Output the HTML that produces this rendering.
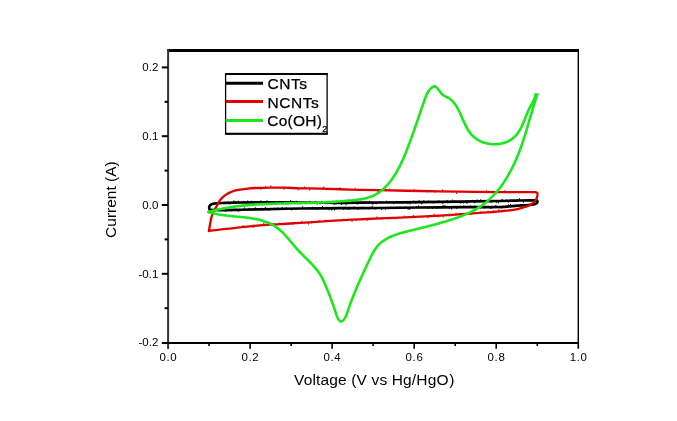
<!DOCTYPE html>
<html><head><meta charset="utf-8"><title>CV curves</title>
<style>
html,body{margin:0;padding:0;background:#fff;}
body{width:677px;height:421px;overflow:hidden;}
svg{display:block;}
</style></head>
<body>
<svg width="677" height="421" viewBox="0 0 677 421">
<rect width="677" height="421" fill="#fff"/>
<path d="M167.5,50.5 H579" stroke="#000" stroke-width="3" fill="none"/>
<path d="M578.3,49 V343" stroke="#000" stroke-width="1.4" fill="none"/>
<path d="M168.1,49 V349" stroke="#333" stroke-width="2" fill="none"/>
<path d="M161.8,343 H579" stroke="#000" stroke-width="2" fill="none"/>
<path d="M161.8,67.4 H168" stroke="#000" stroke-width="2"/>
<path d="M161.8,136.2 H168" stroke="#000" stroke-width="2"/>
<path d="M161.8,205.0 H168" stroke="#000" stroke-width="2"/>
<path d="M161.8,273.8 H168" stroke="#000" stroke-width="2"/>
<path d="M164.6,101.8 H168" stroke="#000" stroke-width="2"/>
<path d="M164.6,170.6 H168" stroke="#000" stroke-width="2"/>
<path d="M164.6,239.4 H168" stroke="#000" stroke-width="2"/>
<path d="M164.6,308.2 H168" stroke="#000" stroke-width="2"/>
<path d="M250.1,343 V348.7" stroke="#000" stroke-width="1.6"/>
<path d="M332.1,343 V348.7" stroke="#000" stroke-width="1.6"/>
<path d="M414.2,343 V348.7" stroke="#000" stroke-width="1.6"/>
<path d="M496.2,343 V348.7" stroke="#000" stroke-width="1.6"/>
<path d="M578.3,343 V348.7" stroke="#000" stroke-width="1.6"/>
<path d="M209.0,343 V346" stroke="#000" stroke-width="1.6"/>
<path d="M291.1,343 V346" stroke="#000" stroke-width="1.6"/>
<path d="M373.1,343 V346" stroke="#000" stroke-width="1.6"/>
<path d="M455.2,343 V346" stroke="#000" stroke-width="1.6"/>
<path d="M537.3,343 V346" stroke="#000" stroke-width="1.6"/>
<g font-family='"Liberation Sans", Arial, sans-serif' font-size="11.5" fill="#000"><text x="158.3" y="71.1" text-anchor="end">0.2</text><text x="158.3" y="139.9" text-anchor="end">0.1</text><text x="158.3" y="208.7" text-anchor="end">0.0</text><text x="158.3" y="277.5" text-anchor="end">-0.1</text><text x="158.3" y="346.3" text-anchor="end">-0.2</text><text x="168.3" y="361.1" text-anchor="middle" letter-spacing="0.6">0.0</text><text x="250.4" y="361.1" text-anchor="middle" letter-spacing="0.6">0.2</text><text x="332.4" y="361.1" text-anchor="middle" letter-spacing="0.6">0.4</text><text x="414.5" y="361.1" text-anchor="middle" letter-spacing="0.6">0.6</text><text x="496.5" y="361.1" text-anchor="middle" letter-spacing="0.6">0.8</text><text x="578.6" y="361.1" text-anchor="middle" letter-spacing="0.6">1.0</text></g>
<g fill="none" stroke-linejoin="round" stroke-linecap="round">
<path d="M260.00,202.30C253.33,202.37 246.19,202.39 240.00,202.50C234.64,202.60 229.28,202.74 225.00,202.90C221.80,203.02 219.03,203.02 216.60,203.30C214.71,203.51 212.78,203.65 211.60,204.20C210.82,204.56 210.30,205.00 209.90,205.60C209.48,206.24 209.17,207.28 209.20,208.00C209.22,208.59 209.39,209.26 209.80,209.60C210.26,209.99 211.15,209.92 212.00,210.00C213.13,210.10 214.40,209.98 216.00,210.00C218.40,210.03 221.62,210.21 225.00,210.20C229.37,210.19 234.64,209.94 240.00,209.80C246.19,209.64 252.19,209.48 260.00,209.30C271.05,209.05 286.67,208.68 300.00,208.50C313.33,208.32 326.67,208.28 340.00,208.20C353.33,208.12 366.67,208.12 380.00,208.00C393.33,207.88 406.67,207.63 420.00,207.50C433.33,207.37 446.67,207.28 460.00,207.20C473.33,207.12 489.88,207.43 500.00,207.00C506.21,206.74 510.06,206.14 515.00,205.80C519.82,205.47 525.95,205.29 529.30,205.00C531.12,204.84 532.31,204.77 533.50,204.50C534.42,204.29 535.23,204.11 535.90,203.70C536.51,203.32 537.25,202.76 537.40,202.20C537.54,201.71 537.36,200.92 537.00,200.60C536.61,200.24 535.82,200.35 535.00,200.30C533.71,200.22 532.11,200.36 530.00,200.40C526.34,200.46 520.00,200.50 515.00,200.60C510.00,200.70 506.20,200.87 500.00,201.00C489.87,201.21 473.33,201.42 460.00,201.60C446.67,201.78 433.33,201.95 420.00,202.10C406.67,202.25 393.33,202.38 380.00,202.50C366.67,202.62 353.33,202.78 340.00,202.80C326.67,202.82 313.33,202.68 300.00,202.60C286.67,202.52 273.33,202.40 260.00,202.30Z" stroke="#000" stroke-width="2.7"/>
<path d="M208.90,231.00C209.23,229.00 209.56,226.95 209.90,225.00C210.23,223.15 210.49,221.39 210.90,219.60C211.32,217.79 211.85,215.69 212.40,214.20C212.81,213.10 213.24,212.31 213.70,211.40C214.15,210.51 214.62,209.65 215.10,208.80C215.58,207.95 216.12,207.16 216.60,206.30C217.09,205.42 217.52,204.47 218.00,203.60C218.46,202.77 218.90,201.97 219.40,201.20C219.90,200.44 220.42,199.68 221.00,199.00C221.56,198.35 222.06,197.86 222.80,197.20C223.85,196.28 225.42,194.97 226.80,194.10C228.09,193.29 229.46,192.67 230.80,192.10C232.09,191.55 233.29,191.10 234.70,190.70C236.32,190.24 238.17,189.91 240.00,189.60C241.93,189.27 243.74,189.04 246.00,188.80C248.91,188.49 252.38,188.20 256.00,188.00C260.27,187.77 265.25,187.65 270.00,187.60C274.91,187.55 280.00,187.58 285.00,187.70C290.00,187.82 294.64,188.15 300.00,188.30C306.19,188.47 312.66,188.42 320.00,188.60C328.99,188.82 340.00,189.33 350.00,189.60C360.00,189.87 369.28,189.99 380.00,190.20C392.38,190.45 406.67,190.75 420.00,191.00C433.33,191.25 446.67,191.52 460.00,191.70C473.33,191.88 487.62,192.04 500.00,192.10C510.72,192.15 523.93,192.05 530.00,192.10C532.65,192.12 533.80,192.17 535.70,192.20C536.23,192.43 537.00,192.42 537.30,192.90C537.73,193.58 537.45,195.25 537.20,196.40C536.94,197.62 536.40,198.89 535.70,200.00C534.96,201.17 533.99,202.25 532.80,203.20C531.43,204.29 529.56,205.24 527.80,206.00C526.00,206.78 524.11,207.23 522.10,207.80C519.87,208.43 517.82,209.08 515.00,209.60C510.94,210.34 505.36,210.78 500.00,211.30C493.82,211.90 487.04,212.38 480.00,212.90C472.13,213.48 462.28,214.11 455.00,214.60C449.37,214.98 445.86,215.26 440.00,215.60C431.72,216.08 420.00,216.63 410.00,217.10C400.00,217.57 388.99,218.00 380.00,218.40C372.66,218.72 366.67,218.98 360.00,219.30C353.33,219.62 346.67,219.92 340.00,220.30C333.33,220.68 326.67,221.17 320.00,221.60C313.33,222.03 306.67,222.48 300.00,222.90C293.33,223.32 286.67,223.68 280.00,224.10C273.33,224.52 265.52,224.97 260.00,225.40C256.09,225.70 253.33,225.97 250.00,226.30C246.67,226.63 243.85,226.98 240.00,227.40C234.75,227.97 226.98,228.74 221.40,229.40C216.82,229.94 213.07,230.47 208.90,231.00" stroke="#e00000" stroke-width="2.3"/>
<path d="M228.0,202.8v-1.0M229.8,202.8v1.4M233.9,202.7v-1.9M235.6,202.6v-1.3M238.2,202.5v-1.5M243.4,202.5v-0.9M247.7,202.4v-1.5M251.8,202.4v-1.3M253.5,202.4v1.8M256.9,202.3v1.4M260.9,202.3v-1.6M265.0,202.3v1.6M267.0,202.4v-1.7M271.3,202.4v1.4M276.3,202.4v1.4M279.4,202.4v-1.1M284.0,202.5v1.1M287.9,202.5v1.9M290.7,202.5v-2.0M294.5,202.6v1.0M296.7,202.6v-1.4M302.5,202.6v0.9M305.5,202.6v1.2M309.7,202.6v-1.3M315.4,202.7v-1.4M317.2,202.7v1.6M320.0,202.7v1.3M321.6,202.7v-1.4M325.8,202.7v-1.4M330.8,202.8v-1.0M334.1,202.8v1.9M335.9,202.8v1.3M341.4,202.8v1.8M346.1,202.8v2.0M351.9,202.7v-1.0M354.1,202.7v-1.6M357.7,202.7v1.5M360.5,202.6v1.0M364.8,202.6v-1.2M369.4,202.6v-1.4M372.9,202.6v1.8M376.2,202.5v1.3M380.6,202.5v-0.9M386.5,202.4v-1.3M389.5,202.4v-0.9M393.6,202.4v1.4M397.8,202.3v-0.9M402.1,202.3v1.0M407.9,202.2v1.5M410.0,202.2v1.8M413.6,202.2v-1.2M415.6,202.1v1.2M419.2,202.1v-1.6M421.7,202.1v1.9M423.8,202.1v-1.5M428.7,202.0v-1.2M433.4,201.9v1.1M438.9,201.9v-1.2M442.8,201.8v1.7M447.2,201.8v-1.5M452.3,201.7v-1.8M454.7,201.7v-1.4M460.7,201.6v1.7M463.4,201.5v1.6M466.9,201.5v1.9M472.7,201.4v-1.2M474.6,201.4v1.4M477.0,201.3v-1.5M480.7,201.3v-1.6M486.0,201.2v0.9M491.0,201.1v1.7M496.5,201.1v1.3M498.4,201.0v1.9M502.0,200.9v-1.7M506.7,200.8v-1.0M508.3,200.8v1.5M513.5,200.6v1.0M517.9,200.6v-1.2M519.5,200.5v-1.8M523.4,200.5v1.9M529.3,200.4v-1.0M531.0,200.4v-1.1M225.8,210.2v1.2M231.9,210.0v0.9M238.4,209.8v1.6M244.4,209.7v-1.9M249.0,209.6v-1.4M255.3,209.4v-1.7M261.1,209.3v-1.0M265.4,209.2v-1.7M268.8,209.1v1.4M274.7,209.0v-0.9M277.8,208.9v-1.1M282.2,208.9v-1.5M286.3,208.8v-1.5M291.6,208.7v1.3M296.1,208.6v1.1M302.7,208.5v-1.9M308.8,208.4v-1.0M312.6,208.4v-1.2M316.6,208.4v1.1M322.5,208.3v-1.9M329.2,208.3v1.6M331.7,208.3v1.9M334.6,208.2v1.9M341.0,208.2v-1.0M343.6,208.2v1.3M347.1,208.2v1.0M349.3,208.2v1.2M354.0,208.1v-1.3M357.8,208.1v1.4M362.2,208.1v-0.9M369.0,208.1v0.9M372.2,208.0v-1.9M375.4,208.0v1.0M381.6,208.0v1.6M385.5,207.9v1.4M390.9,207.9v-0.9M396.9,207.8v-1.0M400.0,207.7v-0.8M406.0,207.7v-0.9M408.1,207.6v1.8M409.9,207.6v2.0M416.5,207.5v-1.1M418.5,207.5v-1.7M425.3,207.5v-1.1M428.1,207.4v1.2M432.7,207.4v1.0M437.0,207.4v1.0M443.0,207.3v-2.0M444.8,207.3v-1.7M449.3,207.3v1.1M451.6,207.3v1.8M456.8,207.2v1.5M463.6,207.2v-1.2M470.6,207.1v-1.2M474.4,207.1v-1.2M480.6,207.1v0.8M484.6,207.1v0.9M490.9,207.0v1.6M495.8,207.0v-1.6M500.0,207.0v1.0M501.7,206.9v1.2M508.6,206.3v-1.5M510.5,206.2v-1.9M514.1,205.9v0.8" stroke="#000" stroke-width="1" fill="none"/>
<path d="M254.6,188.1v-0.9M260.8,187.9v1.5M265.5,187.7v-1.2M271.0,187.6v-1.9M284.0,187.7v1.7M298.4,188.2v1.7M304.7,188.4v-1.7M309.7,188.4v1.8M323.7,188.7v-1.8M340.0,189.3v-1.7M355.2,189.7v-1.5M360.7,189.8v0.9M377.7,190.2v1.3M389.4,190.4v-1.6M400.2,190.6v-0.8M414.4,190.9v-1.4M427.4,191.1v0.9M435.1,191.3v0.9M442.6,191.4v-1.7M456.6,191.6v2.0M472.1,191.8v0.9M486.6,192.0v-1.5M491.9,192.0v1.0M504.9,192.1v-1.6M509.4,192.1v0.9M526.5,192.1v-0.9M242.9,227.1v-1.4M253.3,226.0v1.5M263.7,225.2v-1.9M268.6,224.8v0.9M279.0,224.2v-1.3M282.2,224.0v0.9M292.4,223.4v1.0M302.0,222.8v-1.6M308.5,222.3v1.9M311.3,222.2v0.8M319.3,221.6v-1.3M325.2,221.3v-1.3M334.5,220.7v0.8M343.7,220.1v-0.9M352.0,219.7v1.9M356.6,219.5v0.9M367.1,219.0v1.5M377.0,218.5v-1.7M381.8,218.3v0.9M389.4,218.0v1.0M395.5,217.7v1.2M404.3,217.3v-1.3M413.3,216.9v-1.6M421.6,216.5v0.9M427.8,216.2v1.7M434.2,215.9v-1.9M438.2,215.7v1.3M443.2,215.4v1.7M449.0,215.0v1.1M456.0,214.5v-1.3M463.7,214.0v0.9M470.7,213.5v1.3M481.1,212.8v-1.3M488.1,212.3v-1.1M493.4,211.8v-0.9M498.9,211.4v-1.8" stroke="#e00000" stroke-width="1" fill="none"/>
<path d="M208.30,212.00C209.11,211.78 209.93,211.55 210.74,211.34C211.56,211.13 212.37,210.92 213.19,210.71C214.01,210.51 214.83,210.32 215.65,210.13C216.47,209.93 217.29,209.75 218.11,209.57C218.93,209.39 219.75,209.22 220.57,209.05C221.40,208.88 222.22,208.71 223.05,208.56C223.87,208.40 224.70,208.24 225.52,208.10C226.35,207.95 227.18,207.80 228.01,207.66C228.83,207.53 229.66,207.39 230.49,207.26C231.32,207.13 232.15,207.01 232.98,206.89C233.82,206.77 234.65,206.65 235.48,206.54C236.31,206.42 237.15,206.32 237.98,206.21C238.81,206.11 239.65,206.01 240.48,205.91C241.32,205.82 242.15,205.72 242.99,205.64C243.83,205.55 244.66,205.46 245.50,205.38C246.34,205.30 247.17,205.22 248.01,205.15C248.85,205.07 249.69,205.00 250.53,204.93C251.37,204.86 252.21,204.80 253.05,204.74C253.89,204.67 254.73,204.61 255.57,204.56C256.41,204.50 257.25,204.45 258.09,204.40C258.93,204.34 259.77,204.30 260.62,204.25C261.46,204.20 262.30,204.16 263.14,204.12C263.99,204.07 264.83,204.03 265.67,204.00C266.51,203.96 267.36,203.92 268.20,203.89C269.04,203.86 269.89,203.82 270.73,203.79C271.57,203.76 272.42,203.73 273.26,203.71C274.11,203.68 274.95,203.65 275.79,203.63C276.64,203.60 277.48,203.58 278.33,203.56C279.17,203.54 280.01,203.52 280.86,203.50C281.70,203.48 282.55,203.46 283.39,203.44C284.23,203.42 285.08,203.40 285.92,203.38C286.76,203.37 287.61,203.35 288.45,203.33C289.29,203.32 290.14,203.30 290.98,203.29C291.82,203.27 292.67,203.25 293.51,203.24C294.35,203.22 295.19,203.21 296.04,203.19C296.88,203.18 297.72,203.16 298.56,203.14C299.40,203.13 300.25,203.11 301.09,203.09C301.93,203.08 302.77,203.06 303.61,203.04C304.45,203.02 305.29,203.00 306.13,202.98C306.97,202.96 307.81,202.94 308.64,202.92C309.48,202.90 310.32,202.88 311.16,202.85C312.00,202.83 312.83,202.80 313.67,202.77C314.51,202.75 315.34,202.72 316.18,202.69C317.01,202.66 317.85,202.63 318.68,202.59C319.52,202.56 320.35,202.52 321.19,202.49C322.02,202.45 322.85,202.41 323.69,202.37C324.52,202.33 325.36,202.29 326.19,202.25C327.03,202.21 327.86,202.16 328.69,202.12C329.53,202.07 330.36,202.02 331.20,201.97C332.04,201.92 332.87,201.87 333.71,201.82C334.55,201.76 335.38,201.71 336.22,201.65C337.06,201.59 337.90,201.54 338.74,201.48C339.58,201.41 340.42,201.35 341.26,201.29C342.10,201.22 342.95,201.16 343.79,201.09C344.64,201.02 345.48,200.95 346.33,200.88C347.18,200.81 348.03,200.74 348.88,200.66C349.73,200.58 350.58,200.51 351.43,200.43C352.29,200.35 353.14,200.26 353.99,200.17C354.85,200.08 355.70,199.99 356.55,199.88C357.40,199.78 358.25,199.67 359.10,199.54C359.94,199.42 360.78,199.29 361.62,199.14C362.45,198.99 363.29,198.83 364.11,198.65C364.93,198.47 365.75,198.28 366.56,198.06C367.37,197.85 368.18,197.62 368.97,197.36C369.76,197.11 370.54,196.84 371.32,196.54C372.09,196.24 372.85,195.92 373.60,195.57C374.34,195.22 375.08,194.84 375.80,194.44C376.52,194.04 377.23,193.61 377.93,193.16C378.63,192.71 379.31,192.24 379.98,191.74C380.65,191.24 381.31,190.73 381.95,190.19C382.59,189.65 383.23,189.10 383.84,188.53C384.46,187.95 385.07,187.36 385.66,186.76C386.25,186.16 386.83,185.54 387.40,184.91C387.96,184.28 388.52,183.63 389.06,182.98C389.60,182.33 390.12,181.67 390.64,181.00C391.15,180.33 391.66,179.65 392.15,178.96C392.64,178.28 393.12,177.58 393.58,176.88C394.05,176.18 394.51,175.48 394.95,174.76C395.40,174.05 395.84,173.33 396.26,172.60C396.69,171.88 397.11,171.15 397.51,170.41C397.92,169.67 398.32,168.93 398.71,168.19C399.10,167.44 399.49,166.69 399.86,165.93C400.24,165.18 400.61,164.42 400.97,163.66C401.33,162.90 401.69,162.13 402.04,161.36C402.39,160.60 402.73,159.83 403.07,159.05C403.41,158.28 403.75,157.51 404.08,156.73C404.41,155.95 404.74,155.18 405.06,154.40C405.38,153.62 405.70,152.84 406.02,152.06C406.33,151.28 406.65,150.49 406.96,149.71C407.27,148.93 407.57,148.15 407.88,147.36C408.18,146.58 408.48,145.79 408.78,145.00C409.08,144.22 409.38,143.43 409.67,142.64C409.97,141.86 410.26,141.07 410.55,140.28C410.84,139.49 411.12,138.70 411.41,137.91C411.69,137.12 411.98,136.33 412.26,135.54C412.54,134.75 412.82,133.96 413.10,133.17C413.38,132.38 413.66,131.59 413.94,130.80C414.21,130.01 414.49,129.21 414.76,128.42C415.04,127.63 415.31,126.84 415.59,126.05C415.86,125.25 416.13,124.46 416.40,123.67C416.68,122.88 416.95,122.08 417.22,121.29C417.49,120.50 417.76,119.70 418.03,118.91C418.30,118.12 418.57,117.32 418.84,116.53C419.12,115.74 419.39,114.94 419.66,114.15C419.93,113.35 420.20,112.56 420.47,111.76C420.75,110.97 421.02,110.17 421.29,109.37C421.56,108.57 421.84,107.78 422.11,106.98C422.39,106.18 422.66,105.38 422.94,104.58C423.22,103.78 423.50,102.98 423.77,102.18C424.05,101.38 424.33,100.57 424.62,99.77C424.90,98.97 425.19,98.17 425.50,97.37C425.80,96.59 426.12,95.80 426.47,95.03C426.83,94.26 427.20,93.50 427.62,92.77C428.04,92.04 428.49,91.32 428.99,90.64C429.50,89.96 430.06,89.29 430.67,88.68C431.29,88.06 431.95,87.33 432.69,86.95C433.38,86.59 434.23,86.26 434.93,86.39C435.68,86.53 436.41,87.28 437.05,87.87C437.71,88.49 438.26,89.30 438.82,90.03C439.36,90.72 439.83,91.46 440.36,92.13C440.87,92.79 441.35,93.45 441.92,94.02C442.48,94.57 443.10,95.07 443.77,95.50C444.44,95.94 445.21,96.26 445.94,96.63C446.67,97.00 447.43,97.33 448.13,97.74C448.83,98.14 449.50,98.58 450.14,99.06C450.77,99.54 451.38,100.06 451.95,100.60C452.53,101.15 453.07,101.73 453.60,102.33C454.12,102.94 454.62,103.58 455.09,104.24C455.57,104.90 456.03,105.58 456.46,106.28C456.91,106.99 457.32,107.72 457.73,108.46C458.14,109.20 458.53,109.96 458.91,110.73C459.30,111.50 459.67,112.29 460.03,113.08C460.40,113.87 460.75,114.68 461.11,115.48C461.47,116.29 461.82,117.10 462.17,117.92C462.52,118.73 462.87,119.55 463.23,120.36C463.59,121.17 463.95,121.98 464.32,122.78C464.68,123.58 465.06,124.38 465.44,125.17C465.83,125.95 466.23,126.73 466.64,127.49C467.05,128.25 467.47,129.00 467.92,129.73C468.37,130.46 468.83,131.17 469.31,131.86C469.80,132.55 470.30,133.22 470.83,133.86C471.36,134.50 471.92,135.11 472.50,135.70C473.09,136.28 473.70,136.84 474.34,137.37C474.97,137.90 475.64,138.39 476.32,138.86C477.00,139.33 477.71,139.77 478.43,140.18C479.16,140.58 479.90,140.96 480.66,141.31C481.42,141.66 482.19,141.98 482.98,142.27C483.77,142.55 484.57,142.81 485.38,143.04C486.19,143.27 487.01,143.46 487.84,143.63C488.66,143.79 489.50,143.93 490.34,144.03C491.17,144.14 492.02,144.21 492.86,144.25C493.70,144.29 494.55,144.30 495.39,144.28C496.23,144.26 497.08,144.21 497.91,144.12C498.75,144.04 499.58,143.92 500.41,143.77C501.23,143.62 502.05,143.44 502.85,143.23C503.66,143.01 504.45,142.77 505.24,142.49C506.02,142.21 506.79,141.90 507.54,141.56C508.29,141.22 509.02,140.84 509.74,140.43C510.45,140.02 511.15,139.58 511.83,139.10C512.50,138.63 513.15,138.12 513.78,137.58C514.40,137.04 515.00,136.46 515.57,135.85C516.15,135.24 516.69,134.60 517.21,133.93C517.73,133.26 518.23,132.55 518.70,131.84C519.18,131.11 519.63,130.36 520.06,129.60C520.50,128.83 520.91,128.05 521.31,127.25C521.71,126.45 522.09,125.64 522.47,124.82C522.84,124.00 523.20,123.17 523.55,122.34C523.91,121.50 524.25,120.66 524.58,119.83C524.92,118.99 525.25,118.15 525.58,117.32C525.91,116.50 526.23,115.67 526.56,114.85C526.89,114.04 527.21,113.23 527.55,112.44C527.88,111.66 528.21,110.88 528.56,110.12C528.90,109.38 529.24,108.64 529.60,107.93C529.96,107.23 530.33,106.55 530.71,105.87C531.08,105.20 531.47,104.56 531.84,103.89C532.21,103.23 532.59,102.57 532.94,101.88C533.30,101.17 533.66,100.46 533.97,99.71C534.30,98.93 534.61,98.13 534.87,97.29C535.16,96.40 535.36,95.43 535.60,94.50L537.30,94.50C537.03,95.30 536.76,96.11 536.49,96.91C536.23,97.72 535.97,98.52 535.71,99.32C535.45,100.13 535.19,100.93 534.94,101.74C534.69,102.54 534.44,103.34 534.19,104.15C533.94,104.95 533.70,105.75 533.45,106.56C533.21,107.36 532.97,108.16 532.73,108.96C532.49,109.77 532.25,110.57 532.01,111.37C531.78,112.17 531.54,112.98 531.31,113.78C531.07,114.58 530.84,115.38 530.60,116.18C530.37,116.98 530.14,117.78 529.90,118.58C529.67,119.39 529.44,120.19 529.20,120.99C528.97,121.79 528.74,122.58 528.50,123.38C528.27,124.18 528.04,124.98 527.80,125.78C527.56,126.58 527.33,127.38 527.09,128.17C526.85,128.97 526.61,129.77 526.37,130.57C526.13,131.36 525.89,132.16 525.64,132.95C525.40,133.75 525.15,134.55 524.90,135.34C524.65,136.14 524.40,136.93 524.15,137.72C523.89,138.52 523.63,139.31 523.37,140.10C523.11,140.90 522.85,141.69 522.58,142.48C522.31,143.27 522.04,144.06 521.77,144.85C521.49,145.64 521.21,146.43 520.93,147.22C520.65,148.01 520.36,148.80 520.07,149.58C519.77,150.37 519.48,151.16 519.17,151.94C518.87,152.73 518.56,153.52 518.25,154.30C517.94,155.08 517.62,155.87 517.30,156.65C516.98,157.43 516.65,158.21 516.31,158.99C515.98,159.77 515.64,160.54 515.30,161.32C514.95,162.09 514.60,162.86 514.24,163.63C513.89,164.40 513.53,165.17 513.16,165.93C512.79,166.69 512.41,167.45 512.03,168.21C511.65,168.96 511.27,169.72 510.87,170.47C510.48,171.22 510.08,171.96 509.68,172.70C509.27,173.44 508.86,174.18 508.44,174.91C508.02,175.64 507.60,176.37 507.16,177.09C506.73,177.82 506.29,178.53 505.85,179.25C505.40,179.96 504.95,180.67 504.49,181.37C504.03,182.07 503.56,182.76 503.09,183.45C502.61,184.14 502.13,184.82 501.64,185.50C501.15,186.18 500.66,186.85 500.15,187.51C499.65,188.17 499.14,188.83 498.62,189.48C498.10,190.13 497.57,190.77 497.04,191.40C496.50,192.03 495.96,192.66 495.41,193.28C494.86,193.90 494.30,194.51 493.73,195.11C493.17,195.71 492.59,196.30 492.01,196.89C491.42,197.47 490.83,198.05 490.23,198.61C489.63,199.18 489.02,199.73 488.40,200.28C487.78,200.83 487.16,201.37 486.52,201.89C485.89,202.42 485.24,202.94 484.59,203.45C483.94,203.95 483.27,204.45 482.60,204.94C481.93,205.42 481.25,205.90 480.56,206.36C479.87,206.83 479.17,207.28 478.46,207.72C477.75,208.16 477.04,208.59 476.31,209.02C475.59,209.44 474.86,209.85 474.12,210.25C473.38,210.65 472.63,211.04 471.88,211.43C471.13,211.81 470.37,212.18 469.60,212.55C468.84,212.91 468.07,213.27 467.29,213.62C466.52,213.97 465.74,214.31 464.95,214.64C464.17,214.97 463.38,215.30 462.59,215.61C461.80,215.93 461.00,216.24 460.21,216.54C459.41,216.85 458.61,217.14 457.81,217.44C457.00,217.73 456.20,218.01 455.39,218.29C454.59,218.57 453.78,218.84 452.98,219.11C452.17,219.38 451.36,219.64 450.55,219.90C449.75,220.16 448.94,220.41 448.14,220.66C447.33,220.91 446.53,221.16 445.72,221.40C444.92,221.64 444.12,221.88 443.32,222.11C442.51,222.35 441.71,222.58 440.91,222.80C440.11,223.03 439.31,223.26 438.51,223.48C437.71,223.70 436.91,223.92 436.11,224.14C435.32,224.35 434.52,224.57 433.72,224.78C432.92,224.99 432.12,225.20 431.32,225.41C430.52,225.62 429.72,225.82 428.92,226.03C428.12,226.23 427.31,226.44 426.51,226.64C425.71,226.84 424.91,227.04 424.10,227.24C423.30,227.44 422.49,227.64 421.69,227.84C420.88,228.04 420.07,228.24 419.26,228.44C418.45,228.64 417.64,228.84 416.83,229.04C416.02,229.24 415.20,229.44 414.39,229.64C413.57,229.84 412.75,230.04 411.93,230.24C411.11,230.45 410.29,230.65 409.47,230.85C408.64,231.06 407.81,231.27 406.99,231.48C406.16,231.69 405.33,231.90 404.51,232.12C403.68,232.34 402.86,232.56 402.03,232.79C401.21,233.02 400.39,233.26 399.58,233.51C398.77,233.76 397.96,234.01 397.15,234.28C396.35,234.54 395.56,234.82 394.77,235.11C393.98,235.40 393.20,235.70 392.43,236.02C391.66,236.34 390.90,236.67 390.15,237.01C389.40,237.36 388.66,237.72 387.93,238.10C387.21,238.49 386.49,238.88 385.80,239.30C385.10,239.72 384.41,240.16 383.75,240.62C383.08,241.08 382.43,241.56 381.80,242.06C381.17,242.57 380.55,243.09 379.96,243.65C379.36,244.20 378.78,244.78 378.23,245.38C377.68,245.99 377.14,246.62 376.63,247.28C376.12,247.93 375.63,248.62 375.15,249.31C374.68,250.01 374.22,250.74 373.78,251.47C373.33,252.20 372.90,252.96 372.49,253.71C372.07,254.48 371.66,255.25 371.27,256.02C370.87,256.80 370.48,257.59 370.10,258.37C369.72,259.16 369.35,259.94 368.97,260.73C368.60,261.51 368.23,262.29 367.87,263.07C367.50,263.85 367.14,264.62 366.77,265.39C366.41,266.16 366.06,266.92 365.70,267.69C365.34,268.45 364.99,269.21 364.64,269.97C364.29,270.72 363.94,271.48 363.59,272.23C363.24,272.99 362.90,273.74 362.55,274.49C362.21,275.24 361.87,275.99 361.53,276.74C361.19,277.49 360.85,278.24 360.52,278.99C360.18,279.73 359.85,280.48 359.52,281.23C359.18,281.98 358.85,282.73 358.53,283.48C358.20,284.23 357.87,284.98 357.55,285.74C357.22,286.49 356.90,287.25 356.57,288.01C356.25,288.76 355.93,289.52 355.61,290.29C355.29,291.05 354.97,291.82 354.66,292.59C354.34,293.36 354.03,294.13 353.72,294.91C353.40,295.69 353.09,296.47 352.78,297.25C352.47,298.04 352.17,298.83 351.87,299.62C351.56,300.42 351.26,301.22 350.96,302.02C350.66,302.83 350.36,303.64 350.07,304.46C349.78,305.28 349.49,306.10 349.20,306.93C348.91,307.76 348.63,308.60 348.34,309.44C348.06,310.29 347.79,311.14 347.50,311.99C347.21,312.84 346.94,313.69 346.61,314.52C346.28,315.34 345.95,316.17 345.54,316.94C345.14,317.71 344.71,318.48 344.20,319.16C343.70,319.82 343.14,320.59 342.50,320.98C341.95,321.33 341.25,321.64 340.68,321.53C340.09,321.42 339.51,320.77 339.03,320.22C338.50,319.61 338.08,318.77 337.69,317.98C337.28,317.17 336.95,316.29 336.62,315.42C336.30,314.55 336.03,313.63 335.74,312.74C335.46,311.85 335.19,310.96 334.92,310.09C334.64,309.24 334.37,308.40 334.09,307.57C333.82,306.76 333.54,305.95 333.26,305.15C332.99,304.37 332.71,303.59 332.43,302.82C332.15,302.05 331.86,301.30 331.58,300.54C331.29,299.79 331.01,299.04 330.72,298.29C330.43,297.55 330.14,296.80 329.84,296.06C329.55,295.30 329.25,294.55 328.95,293.80C328.65,293.04 328.35,292.27 328.04,291.50C327.73,290.72 327.42,289.94 327.11,289.16C326.79,288.37 326.47,287.57 326.14,286.78C325.81,285.99 325.48,285.19 325.13,284.40C324.79,283.61 324.44,282.82 324.08,282.03C323.71,281.25 323.34,280.46 322.96,279.69C322.57,278.92 322.18,278.16 321.77,277.41C321.36,276.66 320.94,275.92 320.51,275.19C320.07,274.47 319.62,273.76 319.16,273.07C318.69,272.38 318.21,271.70 317.72,271.03C317.23,270.37 316.73,269.72 316.21,269.07C315.70,268.43 315.18,267.80 314.64,267.18C314.11,266.56 313.56,265.95 313.01,265.34C312.46,264.74 311.90,264.14 311.33,263.55C310.77,262.96 310.20,262.37 309.62,261.78C309.04,261.20 308.46,260.62 307.87,260.04C307.29,259.46 306.70,258.88 306.11,258.30C305.52,257.72 304.93,257.14 304.34,256.55C303.74,255.97 303.15,255.38 302.56,254.79C301.97,254.20 301.37,253.60 300.79,253.00C300.20,252.40 299.61,251.79 299.03,251.17C298.45,250.55 297.88,249.92 297.31,249.29C296.73,248.65 296.17,248.00 295.60,247.36C295.04,246.70 294.48,246.04 293.92,245.38C293.36,244.72 292.80,244.06 292.25,243.39C291.69,242.73 291.13,242.06 290.58,241.40C290.02,240.73 289.46,240.07 288.90,239.41C288.34,238.75 287.77,238.10 287.20,237.45C286.64,236.81 286.07,236.17 285.49,235.53C284.91,234.91 284.33,234.28 283.74,233.68C283.15,233.07 282.56,232.47 281.95,231.89C281.35,231.31 280.74,230.75 280.11,230.20C279.49,229.65 278.86,229.12 278.22,228.61C277.58,228.10 276.92,227.61 276.26,227.14C275.59,226.67 274.92,226.23 274.23,225.81C273.54,225.38 272.84,224.98 272.13,224.60C271.42,224.22 270.69,223.86 269.96,223.51C269.23,223.17 268.49,222.84 267.74,222.54C266.99,222.23 266.23,221.94 265.46,221.67C264.69,221.39 263.91,221.14 263.13,220.89C262.35,220.65 261.55,220.42 260.76,220.21C259.96,219.99 259.15,219.79 258.34,219.60C257.53,219.41 256.71,219.23 255.89,219.07C255.06,218.90 254.23,218.74 253.40,218.60C252.57,218.45 251.73,218.31 250.89,218.18C250.04,218.05 249.20,217.93 248.35,217.82C247.50,217.70 246.65,217.60 245.79,217.49C244.94,217.39 244.08,217.29 243.22,217.20C242.37,217.11 241.51,217.02 240.65,216.93C239.78,216.84 238.92,216.76 238.06,216.68C237.20,216.59 236.34,216.51 235.48,216.43C234.62,216.35 233.75,216.27 232.89,216.19C232.04,216.11 231.18,216.02 230.32,215.94C229.47,215.85 228.61,215.76 227.76,215.67C226.91,215.58 226.07,215.48 225.22,215.38C224.38,215.28 223.54,215.17 222.70,215.05C221.87,214.94 221.04,214.82 220.21,214.69C219.38,214.56 218.56,214.43 217.75,214.28C216.93,214.13 216.12,213.98 215.32,213.81C214.52,213.65 213.72,213.47 212.93,213.28C212.15,213.10 211.37,212.90 210.59,212.68C209.82,212.47 209.06,212.23 208.30,212.00" stroke="#1ee61e" stroke-width="2.6" stroke-linejoin="miter" stroke-miterlimit="2.5"/>
</g>
<rect x="225.6" y="74" width="101.5" height="59.8" fill="#fff" stroke="#000" stroke-width="1.3"/>
<path d="M225,73.9 H327.8 M225,133.8 H327.8" stroke="#000" stroke-width="2"/>
<path d="M225.5,83.2 H263" stroke="#000" stroke-width="3"/>
<path d="M225.5,101.5 H263" stroke="#e00000" stroke-width="3"/>
<path d="M225.5,120.5 H263" stroke="#1ee61e" stroke-width="3"/>
<g font-family='"Liberation Sans", Arial, sans-serif' font-size="15.5" fill="#000" stroke="#000" stroke-width="0.25" letter-spacing="0.6"><text x="267.4" y="88.5">CNTs</text><text x="267.4" y="107.6">NCNTs</text><text x="267.2" y="125.8" letter-spacing="0.25">Co(OH)<tspan font-size="9" dx="0.2" dy="5.9">2</tspan></text></g>
<text x="294" y="384.6" font-family='"Liberation Sans", Arial, sans-serif' font-size="15.5" letter-spacing="0.15" fill="#000">Voltage (V vs Hg/HgO<tspan dx="0.6">)</tspan></text>
<text transform="translate(116,237.9) rotate(-90)" font-family='"Liberation Sans", Arial, sans-serif' font-size="15.5" fill="#000">Current (A)</text>
</svg>
</body></html>
